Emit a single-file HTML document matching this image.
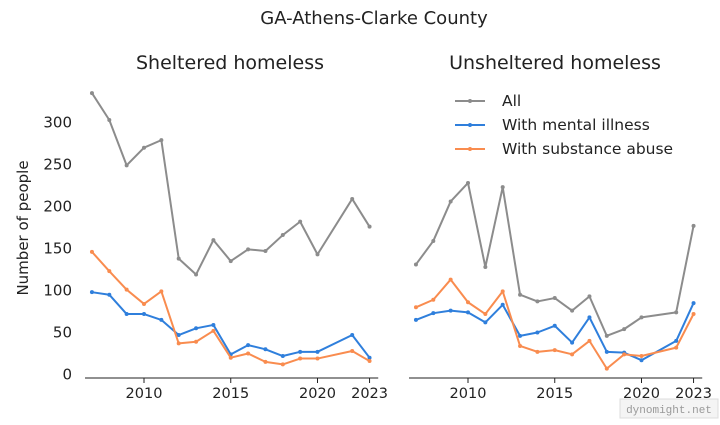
<!DOCTYPE html>
<html><head><meta charset="utf-8"><style>
body{margin:0;background:#fff;}
svg{font-family:"DejaVu Sans","Liberation Sans",sans-serif;}
</style></head><body>
<svg width="720" height="420" viewBox="0 0 720 420" id="chart">
<text x="374" y="24" text-anchor="middle" font-size="18" fill="#222">GA-Athens-Clarke County</text>
<text x="230" y="69" text-anchor="middle" font-size="19" fill="#222">Sheltered homeless</text>
<text x="555" y="69" text-anchor="middle" font-size="19" fill="#222">Unsheltered homeless</text>
<text transform="translate(28,228) rotate(-90)" text-anchor="middle" font-size="15" fill="#222">Number of people</text>
<g id="plots"></g>
<g>
<line x1="455" y1="101" x2="485" y2="101" stroke="#8c8c8c" stroke-width="2"/><circle cx="470" cy="101" r="2" fill="#8c8c8c"/>
<text x="502" y="106" font-size="15.5" fill="#222">All</text>
<line x1="455" y1="125" x2="485" y2="125" stroke="#2f7fdc" stroke-width="2"/><circle cx="470" cy="125" r="2" fill="#2f7fdc"/>
<text x="502" y="130" font-size="15.5" fill="#222">With mental illness</text>
<line x1="455" y1="149" x2="485" y2="149" stroke="#f98c4f" stroke-width="2"/><circle cx="470" cy="149" r="2" fill="#f98c4f"/>
<text x="502" y="154" font-size="15.5" fill="#222">With substance abuse</text>
</g>
<g>
<rect x="620" y="399" width="98" height="19" fill="#f4f4f4" stroke="#ddd"/>
<text x="669" y="413" text-anchor="middle" font-size="11" fill="#999" font-family="Liberation Mono,monospace">dynomight.net</text>
</g>
</svg>
<script>
const years=[2007,2008,2009,2010,2011,2012,2013,2014,2015,2016,2017,2018,2019,2020,2022,2023];
const shelAll=[335,303,249,270,279,138,119,160,135,149,147,166,182,143,209,176];
const shelMental=[98,95,72,72,65,47,55,59,24,35,30,22,27,27,47,20];
const shelSubst=[146,123,101,84,99,37,39,52,20,25,15,12,19,19,28,16];
const unshAll=[131,159,206,228,128,223,95,87,91,76,93,46,54,68,74,177];
const unshMental=[65,73,76,74,62,83,46,50,58,38,68,27,26,17,40,85];
const unshSubst=[80,89,113,86,72,99,34,27,29,24,40,7,24,22,32,72];
const xTicks=[2010,2015,2020,2023];
const yTicks=[0,50,100,150,200,250,300];
const NS='http://www.w3.org/2000/svg';
const g=document.getElementById('plots');
function mk(t,a){const e=document.createElementNS(NS,t);for(const k in a)e.setAttribute(k,a[k]);g.appendChild(e);return e;}
const y=v=>374.5-v*0.84;
function panel(x0,name,series,showY){
  const x=yr=>x0+(yr-2010)*17.35;
  const ax=mk('line',{x1:x(2006.6),x2:x(2023.5),y1:378,y2:378,stroke:'#222','stroke-width':1});
  
  
  xTicks.forEach(t=>{
    mk('line',{x1:x(t),x2:x(t),y1:378,y2:383,stroke:'#222'});
    const tx=mk('text',{x:x(t),y:398,'text-anchor':'middle','font-size':14.5,fill:'#222'});
    tx.textContent=t;
    
    
  });
  if(showY){yTicks.forEach(t=>{
    const tx=mk('text',{x:72,y:y(t)+5,'text-anchor':'end','font-size':15,fill:'#222'});
    tx.textContent=t;
    
    
  });}
  series.forEach(([d,c,n])=>{
    const p=mk('polyline',{points:d.map((v,i)=>x(years[i])+','+y(v)).join(' '),fill:'none',stroke:c,'stroke-width':2,'stroke-linejoin':'round'});
    
    
    d.forEach((v,i)=>{const c2=mk('circle',{cx:x(years[i]),cy:y(v),r:2,fill:c});
      
      });
  });
}
panel(144,'sheltered',[[shelAll,'#8c8c8c','all'],[shelMental,'#2f7fdc','mental'],[shelSubst,'#f98c4f','substance']],true);
panel(468,'unsheltered',[[unshAll,'#8c8c8c','all'],[unshMental,'#2f7fdc','mental'],[unshSubst,'#f98c4f','substance']],false);
</script>
</body></html>
